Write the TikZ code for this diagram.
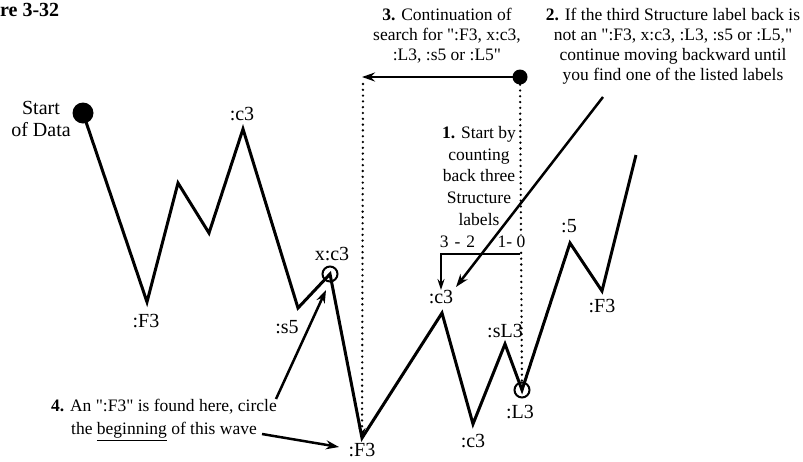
\documentclass[tikz,border=0pt]{standalone}
\usepackage{fontspec}
\newfontfamily\tms{Liberation Serif}
\usetikzlibrary{arrows.meta}
\begin{document}
\begin{tikzpicture}[x=1pt,y=-1pt,
  lbl/.style={font=\tms\fontsize{20}{22}\selectfont, inner sep=0pt},
  note/.style={font=\tms\fontsize{17.5}{20}\selectfont, align=center, inner sep=0pt},
  wave/.style={line width=3pt, line join=miter, miter limit=4},
  ptr/.style={line width=2.5pt, -{Stealth[length=13pt,width=9pt]}},
  dots/.style={line width=2.6pt, line cap=round, dash pattern=on 0pt off 5.8pt},
  ring/.style={circle, draw, line width=2pt, minimum size=15pt, inner sep=0pt},
  blob/.style={circle, fill, inner sep=0pt}
]
\useasboundingbox[fill=white] (0,0) rectangle (803,461);

% title (cropped in the reference)
\node[font=\tms\bfseries\fontsize{20}{22}\selectfont, anchor=base west, inner sep=0pt] (title) at (0,16) {re 3-32};

% wave vertices
\node[blob, minimum size=21pt] (start) at (83,113) {};
\coordinate (p1) at (147,302);
\coordinate (p2) at (178,183);
\coordinate (p3) at (209,233);
\coordinate (p4) at (243,129);
\coordinate (p5) at (298,308);
\node[ring] (xc3) at (330,274) {};
\coordinate (p7) at (362,438);
\coordinate (p8) at (442,313);
\coordinate (p9) at (473,424);
\coordinate (p10) at (505,344);
\node[ring] (L3) at (522,390) {};
\coordinate (p12) at (570,243);
\coordinate (p13) at (602,291);
\coordinate (p14) at (636,155);

\draw[wave] (start.center) -- (p1) -- (p2) -- (p3) -- (p4) -- (p5) -- (xc3.center)
  -- (p7) -- (p8) -- (p9) -- (p10) -- (L3.center) -- (p12) -- (p13) -- (p14);

% wave labels
\node[lbl, align=center] (lstart) at (41,119) {Start\\of Data};
\node[lbl] (lc3a) at (242,114) {:c3};
\node[lbl] (lf3a) at (146,321) {:F3};
\node[lbl] (ls5) at (287,327) {:s5};
\node[lbl] (lxc3) at (332,254) {x:c3};
\node[lbl] (lf3b) at (362,450) {:F3};
\node[lbl] (lc3b) at (441,297) {:c3};
\node[lbl] (lc3c) at (473,441) {:c3};
\node[lbl] (lsl3) at (505,331) {:sL3};
\node[lbl] (ll3) at (520,412) {:L3};
\node[lbl] (l5) at (569,226) {:5};
\node[lbl] (lf3c) at (602,306) {:F3};

% annotations
\node[note] (n3) at (447,36) {\textbf{3.} Continuation of\\search for ":F3, x:c3,\\:L3, :s5 or :L5"};
\node[note] (n2) at (673,46) {\textbf{2.} If the third Structure label back is\\not an ":F3, x:c3, :L3, :s5 or :L5,"\\continue moving backward until\\you find one of the listed labels};
\node[note, font=\tms\fontsize{17.5}{21.8}\selectfont] (n1) at (479,176) {\textbf{1.} Start by\\counting\\back three\\Structure\\labels};
\node[note] (cnt32) at (457.5,242) {3\hspace{6pt}-\hspace{6pt}2};
\node[note, font=\tms\fontsize{17.5}{23}\selectfont] (n4) at (164,420) {\textbf{4.} An ":F3" is found here, circle\\the \underline{beginning} of this wave};

% step 3: search arrow and dotted guides
\node[blob, minimum size=15pt] (d3) at (520,77) {};
\coordinate (d3end) at (362,77);
\draw[ptr] (d3.center) -- (d3end);
\coordinate (f3top) at (363,84);
\draw[dots, -{Stealth[length=10pt,width=7pt]}] (f3top) -- (p7);
\draw[dots] (d3) -- (L3);

% counting digits sit over the dotted guide
\node[note, fill=white, inner sep=1pt] (cnt10) at (511.5,242) {1- 0};

% step 1: counting bracket
\coordinate (br0) at (520,254);
\draw[line width=2pt, -{Stealth[length=11pt,width=7pt]}] (br0) -| (lc3b.north);

% step 2 arrow
\coordinate (a2s) at (603,97);
\coordinate (a2e) at (456,287);
\draw[ptr] (a2s) -- (a2e);

% step 4 arrows
\coordinate (a4s) at (276,399);
\coordinate (a4e) at (326,290);
\draw[ptr] (a4s) -- (a4e);
\coordinate (a5s) at (262,434);
\coordinate (a5e) at (339,447);
\draw[ptr] (a5s) -- (a5e);
\end{tikzpicture}
\end{document}
